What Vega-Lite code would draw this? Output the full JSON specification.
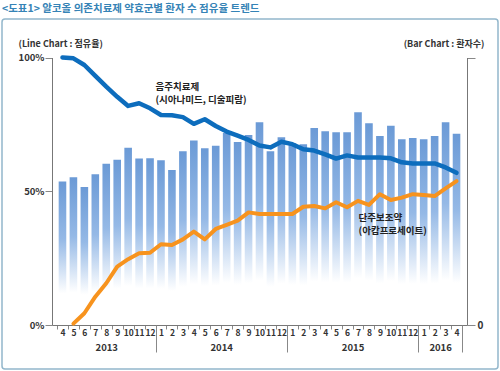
{
  "$schema": "https://vega.github.io/schema/vega-lite/v6.json",
  "width": 496,
  "height": 350,
  "autosize": {"type": "none"},
  "padding": {"left": 2, "top": 19, "right": 2, "bottom": 2},
  "background": "white",
  "title": {
    "text": "<도표1> 알코올 의존치료제 약효군별 환자 수 점유율 트렌드",
    "anchor": "start",
    "frame": "group",
    "offset": 5,
    "font": "Noto Sans CJK KR",
    "fontSize": 10.5,
    "fontWeight": "bold",
    "color": "#3583b6"
  },
  "config": {
    "view": {"stroke": "#93b7cc", "strokeWidth": 1.5, "cornerRadius": 3},
    "axis": {
      "grid": false,
      "labelFont": "Noto Sans CJK KR",
      "titleFont": "Noto Sans CJK KR",
      "labelColor": "#333333",
      "titleColor": "#333333",
      "domainColor": "#777777",
      "tickColor": "#888888",
      "labelOverlap": false,
      "labelFlush": false,
      "labelBound": false
    },
    "text": {"font": "Noto Sans CJK KR"}
  },
  "data": {
    "values": [
      {"ym": "2013-04", "t": 0.5, "bar": 53.6, "blue": 100.0, "orange": null},
      {"ym": "2013-05", "t": 1.5, "bar": 55.2, "blue": 99.7, "orange": 0.5},
      {"ym": "2013-06", "t": 2.5, "bar": 51.6, "blue": 97.2, "orange": 4.4},
      {"ym": "2013-07", "t": 3.5, "bar": 56.4, "blue": 93.1, "orange": 10.6},
      {"ym": "2013-08", "t": 4.5, "bar": 60.3, "blue": 89.1, "orange": 15.6},
      {"ym": "2013-09", "t": 5.5, "bar": 61.8, "blue": 85.3, "orange": 21.8},
      {"ym": "2013-10", "t": 6.5, "bar": 66.3, "blue": 81.9, "orange": 24.6},
      {"ym": "2013-11", "t": 7.5, "bar": 62.2, "blue": 82.9, "orange": 26.8},
      {"ym": "2013-12", "t": 8.5, "bar": 62.3, "blue": 81.0, "orange": 27.0},
      {"ym": "2014-01", "t": 9.5, "bar": 61.6, "blue": 78.5, "orange": 30.2},
      {"ym": "2014-02", "t": 10.5, "bar": 57.9, "blue": 78.4, "orange": 29.9},
      {"ym": "2014-03", "t": 11.5, "bar": 65.0, "blue": 77.7, "orange": 32.0},
      {"ym": "2014-04", "t": 12.5, "bar": 69.0, "blue": 75.2, "orange": 34.9},
      {"ym": "2014-05", "t": 13.5, "bar": 66.1, "blue": 76.9, "orange": 32.0},
      {"ym": "2014-06", "t": 14.5, "bar": 67.0, "blue": 74.4, "orange": 35.9},
      {"ym": "2014-07", "t": 15.5, "bar": 71.8, "blue": 72.3, "orange": 37.4},
      {"ym": "2014-08", "t": 16.5, "bar": 68.4, "blue": 70.8, "orange": 39.0},
      {"ym": "2014-09", "t": 17.5, "bar": 71.0, "blue": 69.2, "orange": 42.1},
      {"ym": "2014-10", "t": 18.5, "bar": 75.8, "blue": 67.1, "orange": 41.5},
      {"ym": "2014-11", "t": 19.5, "bar": 65.0, "blue": 66.4, "orange": 41.5},
      {"ym": "2014-12", "t": 20.5, "bar": 70.2, "blue": 68.5, "orange": 41.5},
      {"ym": "2015-01", "t": 21.5, "bar": 67.9, "blue": 67.6, "orange": 41.5},
      {"ym": "2015-02", "t": 22.5, "bar": 67.6, "blue": 65.7, "orange": 44.2},
      {"ym": "2015-03", "t": 23.5, "bar": 73.6, "blue": 65.2, "orange": 44.5},
      {"ym": "2015-04", "t": 24.5, "bar": 72.4, "blue": 63.8, "orange": 43.6},
      {"ym": "2015-05", "t": 25.5, "bar": 72.1, "blue": 62.2, "orange": 45.9},
      {"ym": "2015-06", "t": 26.5, "bar": 72.1, "blue": 63.4, "orange": 44.0},
      {"ym": "2015-07", "t": 27.5, "bar": 79.5, "blue": 62.6, "orange": 46.4},
      {"ym": "2015-08", "t": 28.5, "bar": 75.4, "blue": 62.6, "orange": 44.9},
      {"ym": "2015-09", "t": 29.5, "bar": 70.7, "blue": 62.6, "orange": 48.9},
      {"ym": "2015-10", "t": 30.5, "bar": 74.5, "blue": 62.3, "orange": 46.7},
      {"ym": "2015-11", "t": 31.5, "bar": 69.4, "blue": 60.8, "orange": 47.6},
      {"ym": "2015-12", "t": 32.5, "bar": 69.9, "blue": 60.4, "orange": 48.9},
      {"ym": "2016-01", "t": 33.5, "bar": 69.4, "blue": 60.4, "orange": 48.6},
      {"ym": "2016-02", "t": 34.5, "bar": 70.7, "blue": 60.4, "orange": 48.2},
      {"ym": "2016-03", "t": 35.5, "bar": 75.8, "blue": 58.9, "orange": 51.1},
      {"ym": "2016-04", "t": 36.5, "bar": 71.5, "blue": 56.9, "orange": 53.8}
    ]
  },
  "layer": [
    {
      "mark": {
        "type": "bar",
        "orient": "vertical",
        "width": 7.6,
        "color": {
          "gradient": "linear",
          "x1": 0, "y1": 0, "x2": 0, "y2": 1,
          "stops": [
            {"offset": 0, "color": "#6b9ad6"},
            {"offset": 0.4, "color": "#95b9e6"},
            {"offset": 0.78, "color": "#ffffff"},
            {"offset": 1, "color": "#ffffff"}
          ]
        }
      },
      "encoding": {
        "x": {
          "field": "t", "type": "quantitative",
          "scale": {"domain": [0, 37], "range": [50, 465], "nice": false, "zero": false},
          "axis": {
            "orient": "bottom", "offset": -44, "title": null,
            "values": [0,1,2,3,4,5,6,7,8,9,10,11,12,13,14,15,16,17,18,19,20,21,22,23,24,25,26,27,28,29,30,31,32,33,34,35,36],
            "labels": false, "tickSize": 4, "domain": true
          }
        },
        "y": {
          "field": "bar", "type": "quantitative", "stack": null,
          "scale": {"domain": [0, 100], "range": [306, 38.5], "nice": false},
          "axis": {
            "orient": "right", "offset": -31,
            "values": [0, 100],
            "labelExpr": "datum.value == 0 ? '0' : ''",
            "tickSize": 8, "labelPadding": 2,
            "labelFontSize": 10, "labelFontWeight": "bold",
            "title": "(Bar Chart : 환자수)",
            "titleAngle": 0, "titleAlign": "right", "titleBaseline": "middle",
            "titleX": 17, "titleY": 24,
            "titleFontSize": 9, "titleFontWeight": "bold"
          }
        }
      }
    },
    {
      "mark": {"type": "line", "color": "#0d6dbd", "strokeWidth": 4.5, "strokeCap": "round", "strokeJoin": "round"},
      "encoding": {
        "x": {
          "field": "t", "type": "quantitative",
          "scale": {"domain": [0, 37], "range": [50, 465], "nice": false, "zero": false},
          "axis": {
            "orient": "bottom", "offset": -44, "title": null,
            "values": [0.5,1.5,2.5,3.5,4.5,5.5,6.5,7.5,8.5,9.5,10.5,11.5,12.5,13.5,14.5,15.5,16.5,17.5,18.5,19.5,20.5,21.5,22.5,23.5,24.5,25.5,26.5,27.5,28.5,29.5,30.5,31.5,32.5,33.5,34.5,35.5,36.5],
            "labelExpr": "((datum.value - 0.5 + 3) % 12) + 1",
            "ticks": false, "tickSize": 0, "domain": false,
            "labelPadding": 3, "labelFontSize": 8.5, "labelFontWeight": "bold"
          }
        },
        "y": {
          "field": "blue", "type": "quantitative",
          "scale": {"domain": [0, 100], "range": [306, 38.5], "nice": false},
          "axis": {
            "orient": "left", "offset": -50,
            "values": [0, 50, 100],
            "labelExpr": "datum.value + '%'",
            "tickSize": 7, "labelPadding": 1,
            "labelFontSize": 9.5, "labelFontWeight": "bold",
            "title": "(Line Chart : 점유율)",
            "titleAngle": 0, "titleAlign": "left", "titleBaseline": "middle",
            "titleX": -34, "titleY": 24,
            "titleFontSize": 9, "titleFontWeight": "bold"
          }
        }
      }
    },
    {
      "mark": {"type": "line", "color": "#f7931e", "strokeWidth": 4, "strokeCap": "round", "strokeJoin": "round"},
      "encoding": {
        "x": {
          "field": "t", "type": "quantitative",
          "scale": {"domain": [0, 37], "range": [50, 465], "nice": false, "zero": false},
          "axis": {
            "orient": "bottom", "offset": -44, "title": null,
            "values": [9, 21, 33, 37],
            "labels": false, "tickSize": 27, "domain": false, "tickColor": "#888888"
          }
        },
        "y": {
          "field": "orange", "type": "quantitative",
          "scale": {"domain": [0, 100], "range": [306, 38.5], "nice": false},
          "axis": null
        }
      }
    },
    {
      "data": {"values": [{}]},
      "mark": {
        "type": "text", "align": "left", "baseline": "top",
        "fontSize": 9.5, "fontWeight": "bold", "lineHeight": 13, "color": "#222222",
        "text": ["음주치료제", "(시아나미드, 디술피람)"]
      },
      "encoding": {
        "x": {
          "datum": 9.0, "type": "quantitative",
          "scale": {"domain": [0, 37], "range": [50, 465], "nice": false, "zero": false},
          "axis": {
            "orient": "bottom", "offset": -44, "title": null,
            "values": [4.5, 15, 27, 35],
            "labelExpr": "datum.value < 9 ? '2013' : datum.value < 21 ? '2014' : datum.value < 33 ? '2015' : '2016'",
            "ticks": false, "tickSize": 0, "domain": false,
            "labelPadding": 17, "labelFontSize": 9.5, "labelFontWeight": "bold"
          }
        },
        "y": {
          "datum": 90.8, "type": "quantitative",
          "scale": {"domain": [0, 100], "range": [306, 38.5], "nice": false},
          "axis": null
        }
      }
    },
    {
      "data": {"values": [{}]},
      "mark": {
        "type": "text", "align": "left", "baseline": "top",
        "fontSize": 9.5, "fontWeight": "bold", "lineHeight": 13, "color": "#222222",
        "text": ["단주보조약", "(아캄프로세이트)"]
      },
      "encoding": {
        "x": {
          "datum": 27.55, "type": "quantitative",
          "scale": {"domain": [0, 37], "range": [50, 465], "nice": false, "zero": false},
          "axis": null
        },
        "y": {
          "datum": 41.9, "type": "quantitative",
          "scale": {"domain": [0, 100], "range": [306, 38.5], "nice": false},
          "axis": null
        }
      }
    }
  ],
  "resolve": {
    "scale": {"y": "independent"},
    "axis": {"x": "independent", "y": "independent"}
  }
}
